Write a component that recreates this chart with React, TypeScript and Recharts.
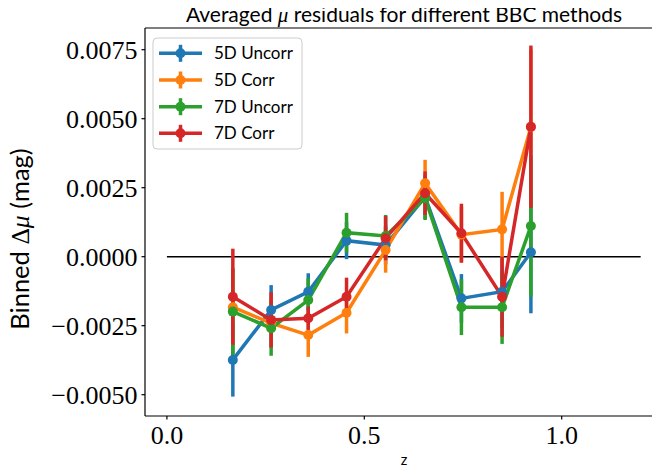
import React from 'react';
import { LineChart, Line, XAxis, YAxis, ErrorBar, ReferenceLine, Label } from 'recharts';

const zBins = [0.167, 0.264, 0.358, 0.455, 0.554, 0.654, 0.746, 0.849, 0.922];

const uncorr5D = [-0.00374, -0.00193, -0.00127, 0.00058, 0.00042, 0.00217, -0.00151, -0.00127, 0.00016];
const uncorr5DErr = [0.00133, 0.0009, 0.00067, 0.00067, 0.0007, 0.0008, 0.00088, 0.0013, 0.00221];

const corr5D = [-0.00183, -0.00241, -0.00284, -0.00203, 0.00024, 0.00266, 0.0008, 0.00099, 0.0047];
const corr5DErr = [0.0014, 0.0009, 0.00079, 0.00075, 0.00082, 0.00085, 0.001, 0.00136, 0.0028];

const uncorr7D = [-0.00199, -0.00259, -0.00157, 0.00087, 0.00075, 0.00212, -0.00183, -0.00183, 0.00111];
const uncorr7DErr = [0.00157, 0.001, 0.00079, 0.00072, 0.00076, 0.00079, 0.00101, 0.00133, 0.00256];

const corr7D = [-0.00145, -0.00229, -0.00223, -0.00145, 0.00067, 0.0023, 0.00085, -0.00145, 0.00471];
const corr7DErr = [0.00174, 0.001, 0.00042, 0.00069, 0.0008, 0.00079, 0.00107, 0.00145, 0.00294];

const seriesNames = ['5D Uncorr', '5D Corr', '7D Uncorr', '7D Corr'];
const seriesColors = ['#1f77b4', '#ff7f0e', '#2ca02c', '#d62728'];
const seriesValues = [uncorr5D, corr5D, uncorr7D, corr7D];
const seriesErrors = [uncorr5DErr, corr5DErr, uncorr7DErr, corr7DErr];

const xTicks = [0, 0.5, 1.0];
const yTicks = [-0.005, -0.0025, 0, 0.0025, 0.005, 0.0075];
const zeroLineRange = [0, 1.2];

const xDomain = [-0.0555, 1.249];
const yDomain = [-0.005772, 0.008286];

const data = zBins.map((z, i) => {
  const row: any = { z };
  seriesValues.forEach((vals, k) => {
    row['v' + k] = vals[i];
    row['e' + k] = seriesErrors[k][i];
  });
  return row;
});

const SERIF = '"Liberation Serif", "DejaVu Serif", serif';
const SANS = 'Lato, "Liberation Sans", sans-serif';

const fmtY = (v: number) => (v < 0 ? '\u2212' : '') + Math.abs(v).toFixed(4);
const fmtX = (v: number) => v.toFixed(1);

const TitleContent = () => (
  <text x={404} y={22} textAnchor="middle" fontFamily={SANS} fontSize={21} fill="#000">
    Averaged <tspan fontFamily={SERIF} fontStyle="italic">μ</tspan> residuals for different BBC methods
  </text>
);

const YLabelContent = () => (
  <text
    x={29}
    y={239}
    transform="rotate(-90, 29, 239)"
    textAnchor="middle"
    fontFamily={SANS}
    fontSize={25.5}
    fill="#000"
  >
    Binned <tspan fontFamily={SERIF}>Δ</tspan><tspan fontFamily={SERIF} fontStyle="italic">μ</tspan> (mag)
  </text>
);

const XLabelContent = () => (
  <text x={404} y={465} textAnchor="middle" fontFamily={SANS} fontSize={14.5} fill="#000">
    z
  </text>
);

const LegendOverlay = () => {
  const rows = [53.3, 80, 106.7, 133.3];
  return (
    <svg
      width={160}
      height={125}
      style={{ position: 'absolute', left: 148, top: 33, overflow: 'visible' }}
    >
      <rect x={5} y={5} width={149} height={111} rx={4} ry={4} fill="rgba(255,255,255,0.8)" stroke="#cccccc" strokeWidth={1} />
      {seriesNames.map((name, k) => {
        const cy = rows[k] - 33;
        return (
          <g key={name}>
            <line x1={11} x2={54} y1={cy} y2={cy} stroke={seriesColors[k]} strokeWidth={3.5} />
            <line x1={32.5} x2={32.5} y1={cy - 8.5} y2={cy + 8.5} stroke={seriesColors[k]} strokeWidth={3.5} />
            <circle cx={32.5} cy={cy} r={5} fill={seriesColors[k]} />
            <text x={66} y={cy} dy="0.35em" fontFamily={SANS} fontSize={17} fill="#000">
              {name}
            </text>
          </g>
        );
      })}
    </svg>
  );
};

export default function App() {
  return (
    <div style={{ position: 'relative', width: 660, height: 469, margin: '-8px 0 0 -8px' }}>
      <LineChart width={660} height={469} data={data} margin={{ top: 28, right: 0, bottom: 0, left: 0 }}>
        <XAxis
          dataKey="z"
          type="number"
          domain={xDomain}
          allowDataOverflow
          ticks={xTicks}
          tickFormatter={fmtX}
          height={53}
          tickSize={3.5}
          tickMargin={6}
          tickLine={{ stroke: '#000', strokeWidth: 1.2 }}
          axisLine={{ stroke: '#000', strokeWidth: 1.2 }}
          tick={{ fill: '#000', fontSize: 26, fontFamily: SERIF }}
        >
          <Label content={XLabelContent} />
        </XAxis>
        <YAxis
          type="number"
          domain={yDomain}
          allowDataOverflow
          ticks={yTicks}
          tickFormatter={fmtY}
          width={145}
          tickSize={3.5}
          tickMargin={4}
          tickLine={{ stroke: '#000', strokeWidth: 1.2 }}
          axisLine={{ stroke: '#000', strokeWidth: 1.2 }}
          tick={{ fill: '#000', fontSize: 26, fontFamily: SERIF }}
        >
          <Label content={YLabelContent} />
        </YAxis>
        <ReferenceLine y={yDomain[1]} stroke="#000" strokeWidth={1.2} ifOverflow="visible">
          <Label content={TitleContent} />
        </ReferenceLine>
        <ReferenceLine
          segment={[{ x: zeroLineRange[0], y: 0 }, { x: zeroLineRange[1], y: 0 }]}
          stroke="#000"
          strokeWidth={1.5}
        />
        {seriesNames.map((name, k) => (
          <Line
            key={name}
            dataKey={'v' + k}
            name={name}
            stroke={seriesColors[k]}
            strokeWidth={3.5}
            dot={{ r: 5, fill: seriesColors[k], stroke: seriesColors[k], strokeWidth: 0 }}
            activeDot={false}
            isAnimationActive={false}
          >
            <ErrorBar dataKey={'e' + k} direction="y" width={0} stroke={seriesColors[k]} strokeWidth={3.5} isAnimationActive={false} />
          </Line>
        ))}
      </LineChart>
      <LegendOverlay />
    </div>
  );
}
